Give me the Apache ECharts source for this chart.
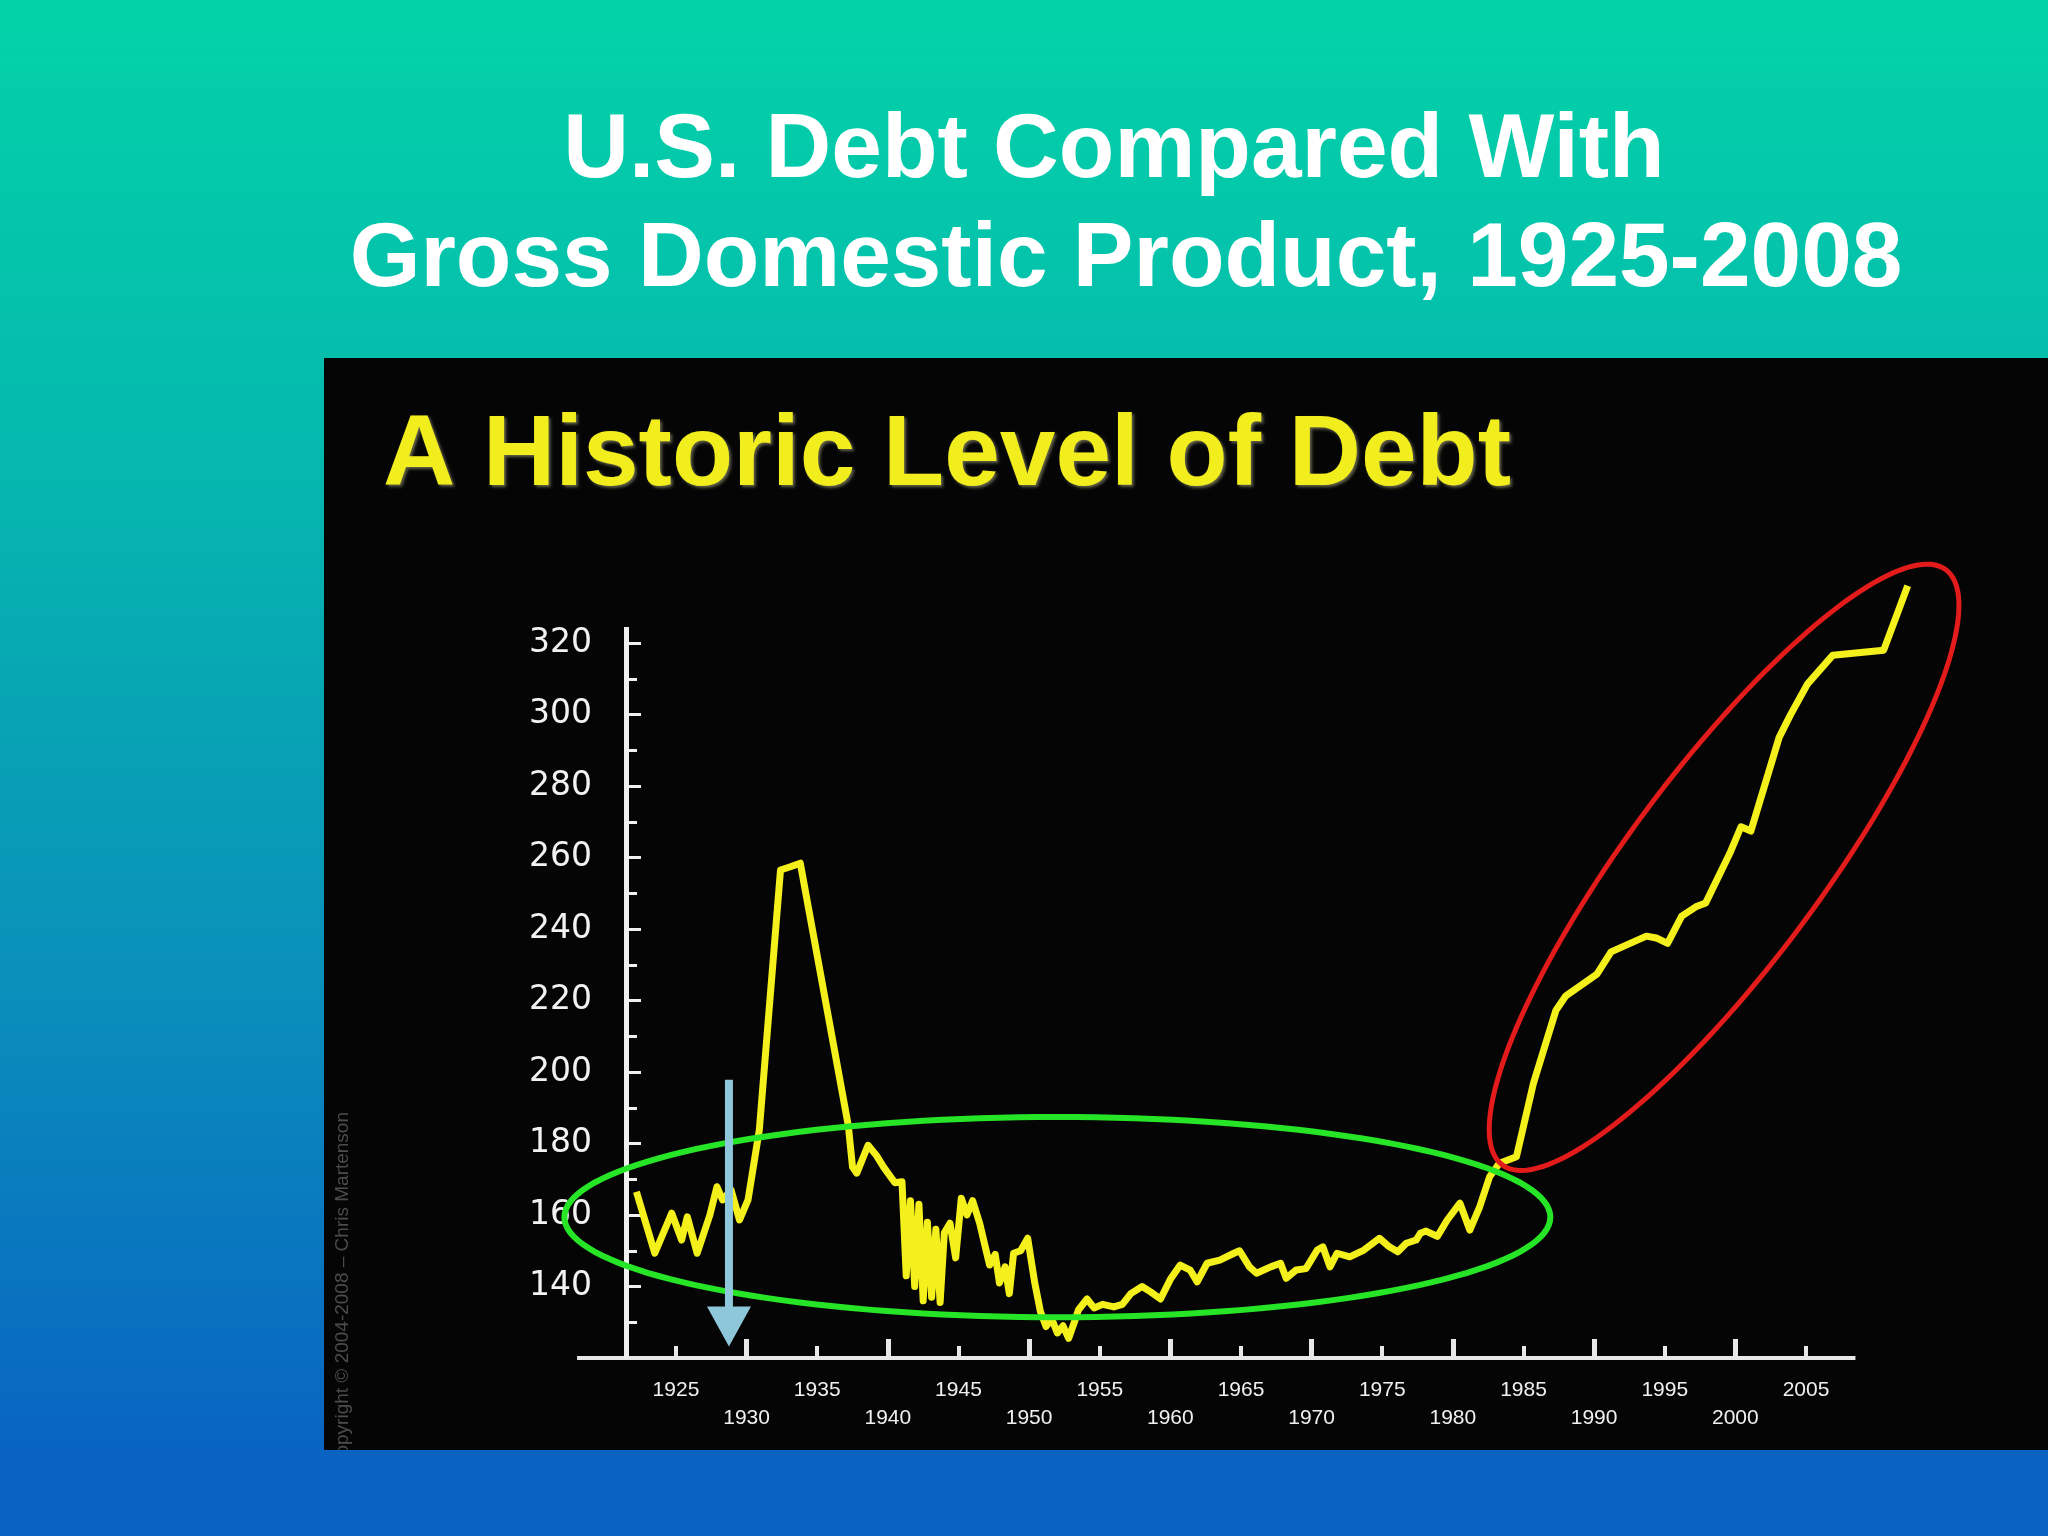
<!DOCTYPE html>
<html><head><meta charset="utf-8">
<script src="https://cdn.jsdelivr.net/npm/echarts@6/dist/echarts.min.js"></script>
<style>html,body{margin:0;padding:0;width:2048px;height:1536px;overflow:hidden;background:#0863C2}#c{width:2048px;height:1536px}</style>
</head><body><div id="c"></div>
<script>
// Debt as % of GDP (x positions follow the printed year axis)
const years = [1922.2,1923.5,1924.7,1925.4,1925.8,1926.5,1927.4,1927.9,1928.3,1928.9,1929.5,1930.1,1930.9,1932.4,1933.1,1933.8,
  1937.2,1937.5,1937.8,1938.6,1939.2,1939.7,1940.5,1941.0,1941.3,1941.6,1941.9,1942.2,1942.5,1942.8,1943.1,1943.4,1943.7,1944.0,
  1944.4,1944.8,1945.2,1945.6,1946.0,1946.5,1946.9,1947.2,1947.6,1947.9,1948.3,1948.6,1948.9,1949.4,1949.9,1950.4,1950.8,1951.2,
  1951.6,1952.0,1952.4,1952.8,1953.2,1953.5,1954.1,1954.6,1955.2,1956.0,1956.6,1957.2,1958.0,1958.6,1959.3,1960.0,1960.7,1961.4,
  1961.9,1962.6,1963.5,1964.5,1964.9,1965.6,1966.1,1967.1,1967.8,1968.2,1968.9,1969.6,1970.4,1970.8,1971.3,1971.8,1972.7,1973.7,
  1974.8,1975.5,1976.1,1976.7,1977.4,1977.7,1978.1,1978.9,1979.6,1980.5,1981.2,1981.9,1982.6,1983.3,1984.5,1985.7,1987.3,1988.0,
  1990.2,1991.2,1993.7,1994.4,1995.2,1996.2,1997.2,1997.9,1999.6,2000.4,2001.1,2003.1,2003.9,2005.1,2006.9,2010.5,2012.2];
const debtValues = [166.5,149.3,160.5,153,159.5,149.3,160,167.9,164.2,167,158.6,164.2,183.8,256.5,257.4,258.4,
  185,173.4,171.7,179.5,176.6,173.4,169,169.3,143,164,140,163,136,158,137,156,135.5,155,
  157.7,148,164.7,160,164,157.7,151,146,149,141,145.5,138,149.3,150,153.5,141,133,128.8,
  131,127,129,125.5,130,133.5,136.5,134,135,134.3,135,138,140,138.5,136.5,142,146,144.6,
  141.3,146.5,147.4,149.3,150,145.5,143.7,145.5,146.5,142.3,144.6,145,150.2,151.1,145.5,149.3,148.3,150.2,
  153.5,151.1,149.7,152.1,153,154.9,155.5,154,158.6,163.3,155.8,162.3,170.7,174.5,176.3,196.8,217.3,221.3,
  227.4,233.6,238,237.5,236,243.6,246.2,247.3,261.1,268.6,267.4,293.6,299.9,308.5,316.6,318,336];
const upperRowYears = [1925,1935,1945,1955,1965,1975,1985,1995,2005];
const lowerRowYears = [1930,1940,1950,1960,1970,1980,1990,2000];
const yTickLabels = [140,160,180,200,220,240,260,280,300,320];
const yMinorTicks = [130,150,170,190,210,230,250,270,290,310];
// drawn axis lines (data space): x-axis from 1918 to 2008.5 at 120; y-axis at 1921.5 from 120 to 324.5
const xAxisLineSpan = [[1918, 120], [2008.5, 120]];
const yAxisLineSpan = [[1921.5, 120], [1921.5, 324.5]];
// annotations (data space)
const greenEllipse = [[1952.0, 159.4, 34.9, 28.0]];           // center x, center y, half-width (yrs), half-height (value)
const redEllipse = [[1983.5, 174.0, 2014.9, 340.5, 0.26]];     // tip1 x,y, tip2 x,y, minor/major ratio
const blueArrow = [[1928.75, 197.8, 123.2]];                    // x, top value, tip value

const chart = echarts.init(document.getElementById('c'), null, {renderer: 'canvas'});
const data = years.map((y, i) => [y, debtValues[i]]);

function ringPoints(c, u, v, a, b) {
  const pts = [];
  for (let i = 0; i < 160; i++) {
    const t = i / 160 * Math.PI * 2;
    const ca = Math.cos(t) * a, sb = Math.sin(t) * b;
    pts.push([c[0] + ca * u[0] + sb * v[0], c[1] + ca * u[1] + sb * v[1]]);
  }
  return pts;
}

const axisFont = '"Liberation Sans Narrow", "Liberation Sans", Arial, sans-serif';
const yAxisBase = {type: 'value', min: 120, max: 340, offset: -49.9, position: 'left', z: 3,
  axisLine: {show: false}, splitLine: {show: false}};

const option = {
  backgroundColor: 'transparent',
  animation: false,
  graphic: [
    {type: 'rect', z: -20, shape: {x: 0, y: 0, width: 2048, height: 1536},
     style: {fill: new echarts.graphic.LinearGradient(0, 0, 0, 1, [
       {offset: 0, color: '#03D3A8'}, {offset: 0.3, color: '#05B8AE'},
       {offset: 0.65, color: '#0A8EBB'}, {offset: 0.944, color: '#0864C2'}, {offset: 1, color: '#0863C2'}])}},
    {type: 'rect', z: -19, shape: {x: 324, y: 358, width: 1724, height: 1092}, style: {fill: '#050505'}},
    {type: 'text', z: -18, x: 1114, y: 152, style: {text: 'U.S. Debt Compared With', fill: '#ffffff',
      font: 'bold 91px "Liberation Sans", Arial, sans-serif', textAlign: 'center', textVerticalAlign: 'middle', align: 'center', verticalAlign: 'middle'}},
    {type: 'text', z: -18, x: 1126, y: 261, style: {text: 'Gross Domestic Product, 1925-2008', fill: '#ffffff',
      font: 'bold 91px "Liberation Sans", Arial, sans-serif', textAlign: 'center', textVerticalAlign: 'middle', align: 'center', verticalAlign: 'middle'}},
    {type: 'text', z: -18, x: 383, y: 457, style: {text: 'A Historic Level of Debt', fill: '#F2EE1E',
      font: 'bold 100px "Liberation Sans", Arial, sans-serif', textAlign: 'left', textVerticalAlign: 'middle', align: 'left', verticalAlign: 'middle',
      textShadowColor: 'rgba(120,120,90,0.8)', textShadowBlur: 3, textShadowOffsetX: 2, textShadowOffsetY: 2}},
    {type: 'text', z: -18, x: 343, y: 1112, rotation: Math.PI / 2, style: {text: 'Copyright © 2004-2008 – Chris Martenson', fill: '#4c4c4c',
      font: '19px "Liberation Sans", Arial, sans-serif', textAlign: 'right', textVerticalAlign: 'middle', align: 'right', verticalAlign: 'middle'}},
    {type: 'rect', z: -17, shape: {x: 0, y: 1450, width: 2048, height: 86}, style: {fill: '#0863C2'}}
  ],
  grid: {left: 577.1, right: 129, top: 571.5, bottom: 178, containLabel: false},
  xAxis: [
    {type: 'value', min: 1918, max: 2013, position: 'bottom', z: 3,
     axisLine: {show: false, onZero: false},
     axisTick: {show: true, inside: true, length: 19, customValues: lowerRowYears, lineStyle: {color: '#e8e8e8', width: 5}},
     axisLabel: {show: true, customValues: lowerRowYears, margin: 50, color: '#f0f0f0', fontSize: 21,
       fontFamily: axisFont, formatter: v => String(v)},
     splitLine: {show: false}},
    {type: 'value', min: 1918, max: 2013, position: 'bottom', z: 3,
     axisLine: {show: false, onZero: false},
     axisTick: {show: true, inside: true, length: 12, customValues: upperRowYears, lineStyle: {color: '#e8e8e8', width: 4}},
     axisLabel: {show: true, customValues: upperRowYears, margin: 22, color: '#f0f0f0', fontSize: 21,
       fontFamily: axisFont, formatter: v => String(v)},
     splitLine: {show: false}}
  ],
  yAxis: [
    Object.assign({}, yAxisBase, {
      axisTick: {show: true, inside: true, length: 14, customValues: yTickLabels, lineStyle: {color: '#f0f0f0', width: 3}},
      axisLabel: {show: true, customValues: yTickLabels, margin: 35, color: '#f2f2f2', fontSize: 33,
        fontFamily: '"DejaVu Sans", Verdana, sans-serif', formatter: v => String(v)}}),
    Object.assign({}, yAxisBase, {
      axisTick: {show: true, inside: true, length: 10, customValues: yMinorTicks, lineStyle: {color: '#f0f0f0', width: 3}},
      axisLabel: {show: false}})
  ],
  series: [
    {type: 'line', name: 'Debt/GDP', data: data, xAxisIndex: 0, yAxisIndex: 0, showSymbol: false, symbol: 'none', clip: false, z: 5,
     lineStyle: {color: '#F4F01C', width: 7, join: 'round'},
     markLine: {silent: true, symbol: ['none', 'none'], label: {show: false}, animation: false,
       data: [
         [{coord: xAxisLineSpan[0], lineStyle: {color: '#e8e8e8', width: 4, type: 'solid'}}, {coord: xAxisLineSpan[1]}],
         [{coord: yAxisLineSpan[0], lineStyle: {color: '#f0f0f0', width: 5, type: 'solid'}}, {coord: yAxisLineSpan[1]}]
       ]}},
    {type: 'custom', name: 'green', xAxisIndex: 0, yAxisIndex: 0, data: greenEllipse, clip: false, z: 6,
     renderItem: (params, api) => {
       const c = api.coord([api.value(0), api.value(1)]);
       const s = api.size([api.value(2), api.value(3)]);
       return {type: 'polygon', shape: {points: ringPoints(c, [1, 0], [0, 1], s[0], s[1])},
         style: {fill: 'none', stroke: '#26E426', lineWidth: 6}};
     }},
    {type: 'custom', name: 'red', xAxisIndex: 0, yAxisIndex: 0, data: redEllipse, clip: false, z: 6,
     renderItem: (params, api) => {
       const p1 = api.coord([api.value(0), api.value(1)]);
       const p2 = api.coord([api.value(2), api.value(3)]);
       const c = [(p1[0] + p2[0]) / 2, (p1[1] + p2[1]) / 2];
       const dx = p2[0] - p1[0], dy = p2[1] - p1[1];
       const L = Math.sqrt(dx * dx + dy * dy);
       const u = [dx / L, dy / L], v = [-u[1], u[0]];
       const a = L / 2, b = a * api.value(4);
       return {type: 'polygon', shape: {points: ringPoints(c, u, v, a, b)},
         style: {fill: 'none', stroke: '#E31B1B', lineWidth: 5}};
     }},
    {type: 'custom', name: 'arrow', xAxisIndex: 0, yAxisIndex: 0, data: blueArrow, clip: false, z: 7,
     renderItem: (params, api) => {
       const top = api.coord([api.value(0), api.value(1)]);
       const tip = api.coord([api.value(0), api.value(2)]);
       const headH = 40, headW = 22;
       return {type: 'group', children: [
         {type: 'line', shape: {x1: top[0], y1: top[1], x2: tip[0], y2: tip[1] - headH + 2},
          style: {stroke: '#8EC6DA', lineWidth: 8}},
         {type: 'polygon', shape: {points: [[tip[0] - headW, tip[1] - headH], [tip[0] + headW, tip[1] - headH], [tip[0], tip[1]]]},
          style: {fill: '#8EC6DA'}}
       ]};
     }}
  ]
};
chart.setOption(option);
</script></body></html>
